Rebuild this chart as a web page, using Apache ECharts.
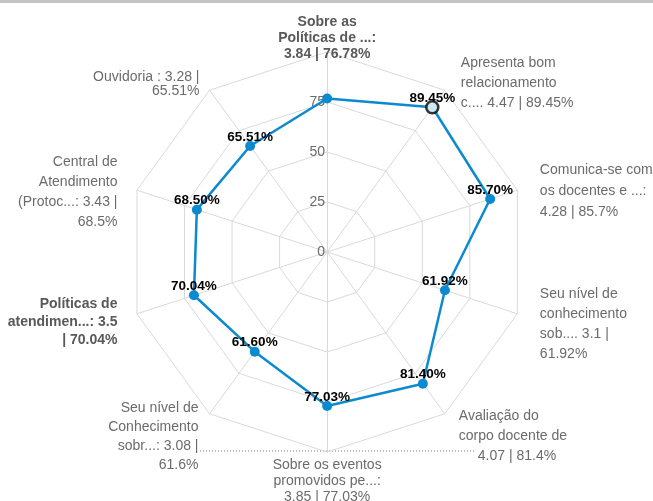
<!DOCTYPE html>
<html>
<head>
<meta charset="utf-8">
<script src="https://cdn.jsdelivr.net/npm/echarts@6/dist/echarts.min.js"></script>
<style>
  html, body { margin: 0; padding: 0; background: #fff; }
  #chart { width: 653px; height: 501px; }
</style>
</head>
<body>
<div id="chart"></div>
<script>
// indicators in the order ECharts lays them out (top, then counter-clockwise)
const indicatorNames = [
  'Sobre as\nPolíticas de ...:\n3.84 | 76.78%',
  'Ouvidoria : 3.28 |\n65.51%',
  'Central de\nAtendimento\n(Protoc...: 3.43 |\n68.5%',
  'Políticas de\natendimen...: 3.5\n| 70.04%',
  'Seu nível de\nConhecimento\nsobr...: 3.08 |\n61.6%',
  'Sobre os eventos\npromovidos pe...:\n3.85 | 77.03%',
  'Avaliação do\ncorpo docente de\n4.07 | 81.4%',
  'Seu nível de\nconhecimento\nsob.... 3.1 |\n61.92%',
  'Comunica-se com\nos docentes e ...:\n4.28 | 85.7%',
  'Apresenta bom\nrelacionamento\nc.... 4.47 | 89.45%'
];
const boldNames = [0, 3];
const scores = [76.78, 65.51, 68.50, 70.04, 61.60, 77.03, 81.40, 61.92, 85.70, 89.45];
const unlabelled = [0];
const highlighted = 9;

// per-name nudges: line height, push away from the axis end, vertical shift
const nameLayout = [
  { lh: 16, dx: 0, dy: 0 },
  { lh: 14, dx: 16, dy: -14 },
  { lh: 20, dx: 29, dy: -1 },
  { lh: 18, dx: 29, dy: 11 },
  { lh: 19, dx: 17, dy: 31 },
  { lh: 16, dx: 0, dy: 15 },
  { lh: 20, dx: 20, dy: 30, extra: [0, 0, 19] },
  { lh: 20, dx: 32, dy: 13 },
  { lh: 21, dx: 32, dy: -2 },
  { lh: 20, dx: 22, dy: -15 }
];

const blue = '#0c8ad0';
const font = 'Liberation Sans, Arial, sans-serif';
const center = ['50.1%', 252];
const n = indicatorNames.length;

function side(i) {
  if (i === 0 || i === n / 2) return 'center';
  return i < n / 2 ? 'left' : 'right';
}

const rich = {};
function spacer(h) {
  rich['sp' + h] = { lineHeight: h, fontSize: 1 };
  return '{sp' + h + '| }';
}

function nameFormatter(value) {
  const i = indicatorNames.indexOf(value);
  const lay = nameLayout[i];
  const s = side(i);
  const lines = value.split('\n').map((line, k) => {
    const pad = lay.dx + (lay.extra ? lay.extra[k] || 0 : 0);
    const key = 'n' + i + '_' + k;
    rich[key] = {
      fontFamily: font,
      fontSize: 14,
      lineHeight: lay.lh,
      color: boldNames.includes(i) ? '#595959' : '#6b6b6b',
      fontWeight: boldNames.includes(i) ? 'bold' : 'normal',
      padding: s === 'right' ? [0, 0, 0, pad] : s === 'left' ? [0, pad, 0, 0] : 0
    };
    return '{' + key + '|' + line + '}';
  });
  if (s === 'center') {
    if (lay.dy > 0) lines.unshift(spacer(lay.dy));
  } else if (lay.dy > 0) {
    lines.unshift(spacer(2 * lay.dy));
  } else if (lay.dy < 0) {
    lines.push(spacer(-2 * lay.dy));
  }
  return lines.join('\n');
}
// build rich styles up front
indicatorNames.forEach(nameFormatter);

const chart = echarts.init(document.getElementById('chart'));

chart.setOption({
  animation: false,
  graphic: [
    { type: 'rect', shape: { x: 0, y: 0, width: 653, height: 3 }, style: { fill: '#c4c4c4' } },
    {
      type: 'line', shape: { x1: 200, y1: 451, x2: 476, y2: 451 },
      style: { stroke: '#777', lineWidth: 1, lineDash: [1, 2] }
    }
  ],
  radar: {
    center: center,
    radius: 200,
    startAngle: 90,
    splitNumber: 4,
    shape: 'polygon',
    nameGap: -10,
    indicator: indicatorNames.map(name => ({ name: name, max: 100, min: 0 })),
    axisName: {
      color: '#6b6b6b',
      fontSize: 14,
      fontFamily: font,
      formatter: nameFormatter,
      rich: rich
    },
    splitArea: { show: false },
    splitLine: { lineStyle: { color: '#d9d9d9', width: 1 } },
    axisLine: { lineStyle: { color: '#d9d9d9', width: 1 } }
  },
  polar: { center: center, radius: 200 },
  angleAxis: { show: false, startAngle: 90, min: 0, max: 360 },
  radiusAxis: {
    min: 0, max: 100, interval: 25,
    axisLine: { show: false },
    axisTick: { show: false },
    splitLine: { show: false },
    axisLabel: {
      color: '#6b6b6b', fontSize: 14, margin: 2, fontFamily: font,
      formatter: v => (v === 100 ? '' : String(v))
    },
    z: 1
  },
  series: [{
    type: 'radar',
    z: 3,
    symbol: 'circle',
    symbolSize: 10,
    lineStyle: { color: blue, width: 2.5 },
    itemStyle: { color: blue },
    label: {
      show: true,
      position: 'top',
      distance: -3,
      color: '#000',
      fontWeight: 'bold',
      fontSize: 13.5,
      fontFamily: font,
      formatter: function (p) {
        const dim = p.dimensionIndex != null ? p.dimensionIndex : scores.indexOf(p.value);
        if (unlabelled.includes(dim)) return '';
        return Number(p.value).toFixed(2) + '%';
      }
    },
    data: [{ value: scores }]
  }, {
    // selected point drawn as a hollow ring
    type: 'scatter',
    coordinateSystem: 'polar',
    z: 4,
    symbol: 'circle',
    symbolSize: 12,
    itemStyle: { color: '#fff', borderColor: '#000', borderWidth: 2.5 },
    data: [[scores[highlighted], (n - highlighted) * 360 / n]]
  }]
});
</script>
</body>
</html>
